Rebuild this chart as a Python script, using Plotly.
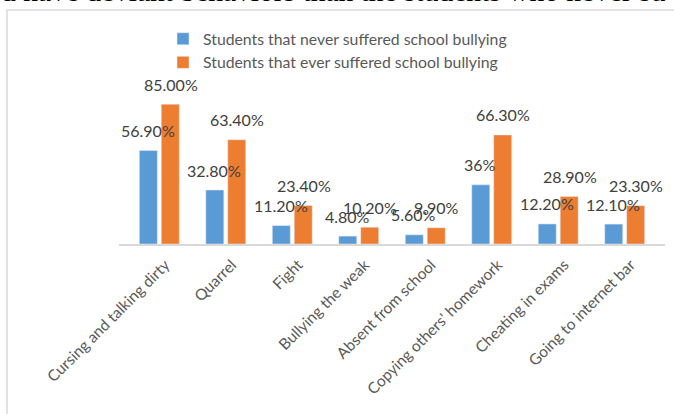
import plotly.graph_objects as go

categories = ["Cursing and talking dirty", "Quarrel", "Fight", "Bullying the weak",
              "Absent from school", "Copying others' homework", "Cheating in exams",
              "Going to internet bar"]
never_vals = [56.9, 32.8, 11.2, 4.8, 5.6, 36, 12.2, 12.1]
never_labels = ["56.90%", "32.80%", "11.20%", "4.80%", "5.60%", "36%", "12.20%", "12.10%"]
ever_vals = [85.0, 63.4, 23.4, 10.2, 9.9, 66.3, 28.9, 23.3]
ever_labels = ["85.00%", "63.40%", "23.40%", "10.20%", "9.90%", "66.30%", "28.90%", "23.30%"]
series_names = ["Students that never suffered school bullying",
                "Students that ever suffered school bullying"]

BLUE = "#5B9BD5"
ORANGE = "#ED7D31"
FONT = "Lato"

fig = go.Figure()
fig.add_trace(go.Bar(x=categories, y=never_vals, name=series_names[0], marker_color=BLUE))
fig.add_trace(go.Bar(x=categories, y=ever_vals, name=series_names[1], marker_color=ORANGE))

annotations = []
for cat, v, t in zip(categories, never_vals, never_labels):
    annotations.append(dict(x=cat, y=v, text=t, xref="x", yref="y", showarrow=False,
                            xshift=-11.3, yshift=20, yanchor="middle",
                            font=dict(family=FONT, size=16, color="#404040")))
for cat, v, t in zip(categories, ever_vals, ever_labels):
    annotations.append(dict(x=cat, y=v, text=t, xref="x", yref="y", showarrow=False,
                            xshift=11.3, yshift=20, yanchor="middle",
                            font=dict(family=FONT, size=16, color="#404040")))

L, R, T, B = 119, 9, 96, 170
W, H = 674, 414
pw = W - L - R
ph = H - T - B

def px_x(p):
    return (p - L) / pw

def px_y(p):
    return (H - B - p) / ph

# partially visible text of the surrounding document at the very top
annotations.append(dict(text="d have deviant behaviors than the students who never su",
                        xref="paper", yref="paper", x=px_x(-1), y=px_y(9.5),
                        xanchor="left", yanchor="bottom", showarrow=False,
                        font=dict(family="Liberation Serif", size=29.5, color="#000000")))

shapes = [dict(type="rect", xref="paper", yref="paper",
               x0=px_x(7), x1=px_x(690), y0=px_y(10), y1=px_y(440),
               line=dict(color="#D9D9D9", width=1.5), fillcolor="rgba(0,0,0,0)", layer="below")]

fig.update_layout(
    width=W, height=H,
    margin=dict(l=L, r=R, t=T, b=B, autoexpand=False),
    paper_bgcolor="white", plot_bgcolor="white",
    barmode="group", bargap=0.34, bargroupgap=0.18,
    showlegend=True,
    legend=dict(x=px_x(163), y=px_y(22), xanchor="left", yanchor="top",
                orientation="v", font=dict(family=FONT, size=15.8, color="#595959"),
                bgcolor="rgba(0,0,0,0)", itemwidth=30),
    font=dict(family=FONT, color="#595959"),
    annotations=annotations,
    shapes=shapes,
    xaxis=dict(showline=True, linecolor="#D9D9D9", linewidth=1.5, ticks="",
               tickangle=-45, tickfont=dict(family=FONT, size=15.5, color="#595959"),
               ticklabelshift=6, ticklabelstandoff=4,
               showgrid=False, zeroline=False, automargin=False),
    yaxis=dict(range=[0, 90], visible=False, showgrid=False, zeroline=False,
               automargin=False),
)

fig.write_html("out.html", config={"displayModeBar": False},
               post_script="document.body.style.margin='0';")
